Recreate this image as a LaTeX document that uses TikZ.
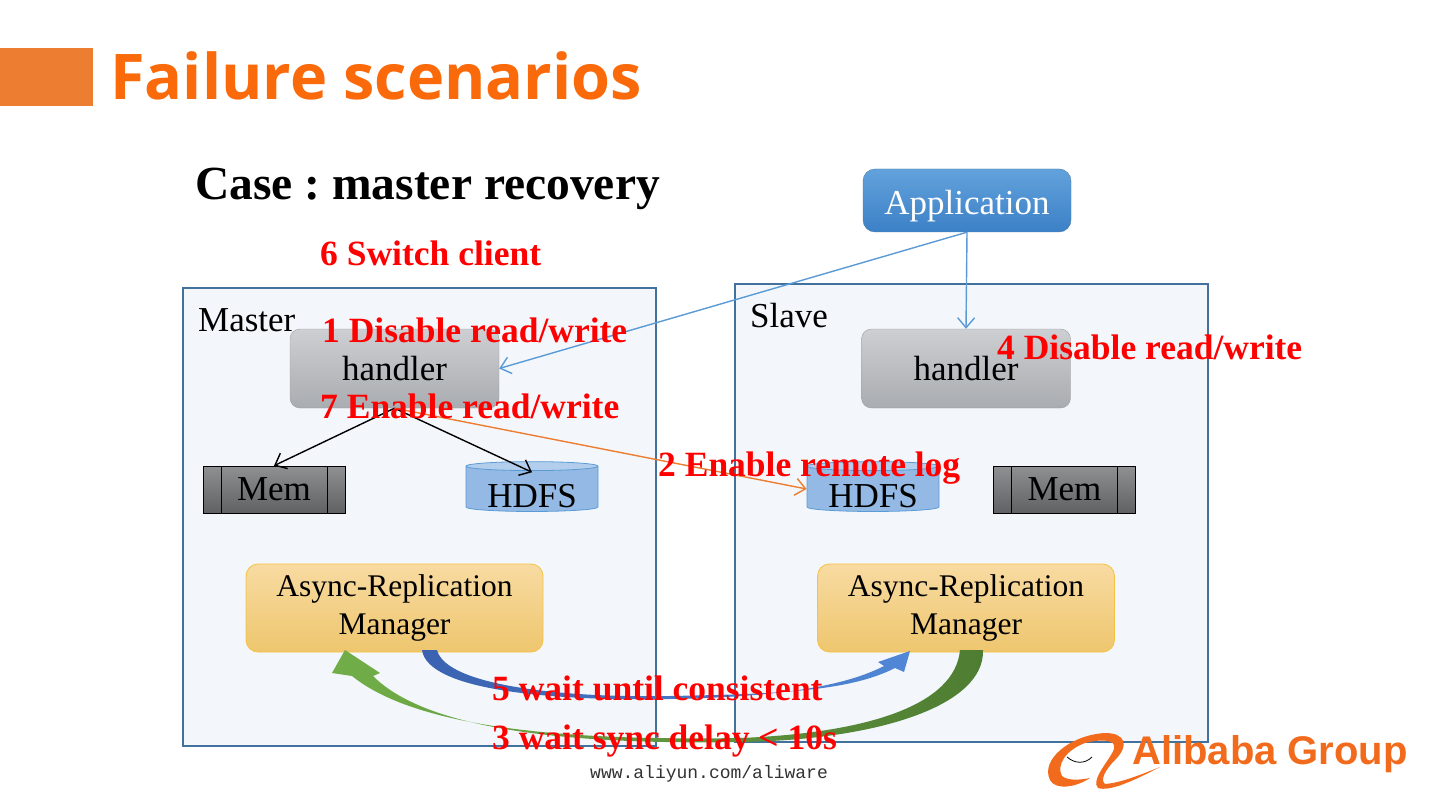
\documentclass[tikz,border=0pt]{standalone}
\usepackage{fontspec}
\setmainfont{Liberation Serif}
\newfontfamily\headfont{Open Sans}
\newfontfamily\logofont{Liberation Sans}
\setmonofont{Liberation Mono}
\usetikzlibrary{arrows.meta,positioning,shapes.geometric}
\frenchspacing
\definecolor{slideorange}{HTML}{ED7D31}
\definecolor{titleorange}{HTML}{FA6A0A}
\definecolor{zoneline}{HTML}{41719C}
\definecolor{zonefill}{HTML}{F3F7FB}
\definecolor{appblue}{HTML}{5B9BD5}
\definecolor{apptop}{HTML}{62A2DC}
\definecolor{appbot}{HTML}{3C80C6}
\definecolor{handtop}{HTML}{CDCFD2}
\definecolor{handbot}{HTML}{A9ACB0}
\definecolor{memtop}{HTML}{8E9092}
\definecolor{membot}{HTML}{5F6163}
\definecolor{drumtop}{HTML}{B2CEEC}
\definecolor{drumbody}{HTML}{94B9E4}
\definecolor{armtop}{HTML}{F8DBA2}
\definecolor{armbot}{HTML}{EEC66E}
\definecolor{armline}{HTML}{F5C242}
\definecolor{syncleft}{HTML}{3A62B0}
\definecolor{syncright}{HTML}{5087D6}
\definecolor{waitleft}{HTML}{71AE48}
\definecolor{waitright}{HTML}{4F7D32}
\definecolor{logoorange}{HTML}{F26B1D}
\definecolor{stepred}{HTML}{FF0000}

\begin{document}
\begin{tikzpicture}[x=1pt, y=-1pt,
  body/.style={font=\fontsize{35}{40}\selectfont},
  zone/.style={draw=zoneline, line width=1.5pt, fill=zonefill},
  hand/.style={body, draw=gray!75, rounded corners=10pt, top color=handtop, bottom color=handbot,
    minimum width=209pt, minimum height=79pt},
  memblk/.style={body, draw=black, line width=0.6pt, top color=memtop, bottom color=membot,
    minimum width=142pt, minimum height=47pt,
    path picture={\draw[line width=0.6pt] ([xshift=18pt]path picture bounding box.north west) -- ([xshift=18pt]path picture bounding box.south west);
      \draw[line width=0.6pt] ([xshift=-18pt]path picture bounding box.north east) -- ([xshift=-18pt]path picture bounding box.south east);}},
  drum/.style={body, cylinder, shape border rotate=90, aspect=0.1, draw=appblue, line width=0.8pt,
    cylinder uses custom fill, cylinder body fill=drumbody, cylinder end fill=drumtop,
    minimum width=132pt, minimum height=46pt, inner sep=0pt, text height=36pt, text depth=0pt},
  arm/.style={font=\fontsize{31.5}{38}\selectfont, align=center, draw=armline, line width=0.8pt,
    rounded corners=12pt, top color=armtop, bottom color=armbot,
    minimum width=297pt, minimum height=88pt},
  steplbl/.style={anchor=base west, inner sep=0pt, text=stepred, font=\bfseries\fontsize{35.5}{40}\selectfont},
  link/.style={draw=appblue, line width=1.4pt, -{Straight Barb[length=10pt,width=17pt]}},
  feed/.style={line width=1.4pt, -{Straight Barb[length=10pt,width=17pt]}}
]
\useasboundingbox[fill=white] (0,0) rectangle (1440,810);

% heading
\fill[slideorange] (0,48) rectangle (93,106);
\node[anchor=base west, inner sep=0pt, text=titleorange, font=\headfont\bfseries\fontsize{63}{70}\selectfont] (title) at (110,100) {Failure scenarios};
\node[anchor=base west, inner sep=0pt, font=\bfseries\fontsize{47.5}{52}\selectfont] (case) at (195,200) {Case : master recovery};

% the two sites
\draw[zone] (183,288) rectangle (656,746);
\draw[zone] (735,284) rectangle (1208,742);
\node[body, anchor=base west, inner sep=0pt] (mlbl) at (198,331) {Master};
\node[body, anchor=base west, inner sep=0pt] (slbl) at (750,327) {Slave};

\node[hand, rounded corners=12pt, draw=appblue!80!black, top color=apptop, bottom color=appbot, text=white,
  minimum width=208pt, minimum height=63pt, text height=28pt, text depth=0pt] (app) at (967,200.5) {Application};

\node[hand] (mh) at (394.5,368.5) {handler};
\node[hand] (sh) at (966,368.5) {handler};

\node[memblk] (mm) at (274,489.5) {Mem};
\node[memblk] (sm) at (1064.5,489.5) {Mem};
\node[drum] (mhd) at (532,489) {HDFS};
\node[drum] (shd) at (873,489) {HDFS};

\node[arm] (marm) at (394.5,608) {Async-Replication\\Manager};
\node[arm] (sarm) at (966,608) {Async-Replication\\Manager};

% connectors
\draw[link] (app.south) -- (mh.east);
\draw[link] (app.south) -- (sh.north);
\draw[feed] (mh.south) -- (mm.north);
\draw[feed] (mh.south) -- ([yshift=-11pt]mhd.north);
\draw[feed, draw=slideorange] (mh.south) -- (shd.west);

% replication arrows
\shade[left color=syncleft, right color=syncright]
  (422,650) .. controls (428,692) and (560,701) .. (670,699) .. controls (780,697) and (845,686) .. (884,666)
  -- (878,662) -- (910,651) -- (904,672) -- (895,668)
  .. controls (850,691) and (780,694) .. (670,696) .. controls (565,698) and (446,686) .. (437,650) -- cycle;
\shade[left color=waitleft, right color=waitright]
  (983,650) .. controls (985,705) and (880,740) .. (740,742) .. controls (560,745) and (425,728) .. (373,676)
  -- (380,673) -- (345,650) -- (332,673) -- (352,676)
  .. controls (415,727) and (560,741) .. (740,738) .. controls (868,733) and (955,705) .. (960,650) -- cycle;

% step labels
\node[steplbl] (s6) at (320,266) {6 Switch client};
\node[steplbl] (s1) at (322,342) {1 Disable read/write};
\node[steplbl] (s7) at (320,418) {7 Enable read/write};
\node[steplbl] (s4) at (997,359) {4 Disable read/write};
\node[steplbl] (s2) at (658,476) {2 Enable remote log};
\node[steplbl] (s5) at (492,700) {5 wait until consistent};
\node[steplbl] (s3) at (492,749) {3 wait sync delay < 10s};

% footer
\node[anchor=base west, inner sep=0pt, text=black!80, font=\ttfamily\fontsize{18}{20}\selectfont] (url) at (590,778) {www.aliyun.com/aliware};
\fill[logoorange] (1050,780) .. controls (1040,760) and (1070,735) .. (1105,733) .. controls (1125,733) and (1130,745) .. (1115,760)
  .. controls (1105,770) and (1100,780) .. (1105,784) .. controls (1120,783) and (1140,775) .. (1160,767)
  .. controls (1135,780) and (1110,792) .. (1098,788) .. controls (1090,780) and (1110,760) .. (1114,749)
  .. controls (1117,739) and (1100,739) .. (1085,743) .. controls (1066,750) and (1056,765) .. (1062,776)
  .. controls (1068,781) and (1080,780) .. (1090,778) .. controls (1075,788) and (1055,790) .. (1050,780) -- cycle;
\draw[line width=0.8pt] (1067,757) .. controls (1075,764) and (1085,764) .. (1092,757);
\node[anchor=base west, inner sep=0pt, text=logoorange, font=\logofont\bfseries\fontsize{40}{44}\selectfont] (alibaba) at (1132,764) {Alibaba Group};
\end{tikzpicture}
\end{document}
